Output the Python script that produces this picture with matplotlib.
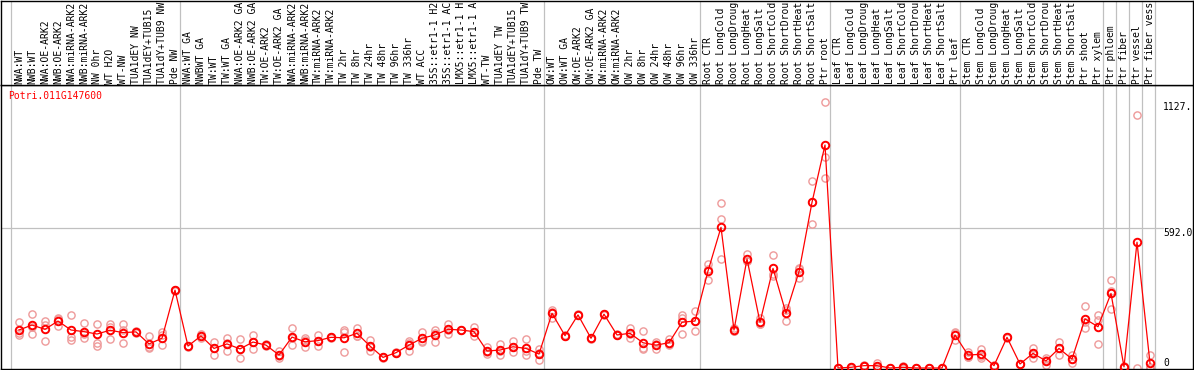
import matplotlib
matplotlib.use("Agg")
import matplotlib.pyplot as plt

gene_name = "Potri.011G147600"

labels = [
    "NWA:WT", "NWB:WT", "NWA:OE-ARK2", "NWB:OE-ARK2", "NWA:miRNA-ARK2", "NWB:miRNA-ARK2",
    "NW 0hr", "WT H2O", "WT-NW", "TUA1dEY NW", "TUA1dEY+TUB15", "TUA1dY+TUB9 NW", "Pde NW",
    "NWA:WT GA", "NWBWT GA", "TW:WT", "TW:WT GA", "NWA:OE-ARK2 GA", "NWB:OE-ARK2 GA",
    "TW:OE-ARK2", "TW:OE-ARK2 GA", "NWA:miRNA-ARK2", "NWB:miRNA-ARK2", "TW:miRNA-ARK2",
    "TW:miRNA-ARK2", "TW 2hr", "TW 8hr", "TW 24hr", "TW 48hr", "TW 96hr", "TW 336hr", "WT ACC",
    "35S::etr1-1 H2", "35S::etr1-1 AC", "LMX5::etr1-1 H", "LMX5::etr1-1 A", "WT-TW",
    "TUA1dEY TW", "TUA1dEY+TUB15", "TUA1dY+TUB9 TW", "Pde TW",
    "OW:WT", "OW:WT GA", "OW:OE-ARK2", "OW:OE-ARK2 GA", "OW:miRNA-ARK2", "OW:miRNA-ARK2",
    "OW 2hr", "OW 8hr", "OW 24hr", "OW 48hr", "OW 96hr", "OW 336hr",
    "Root CTR", "Root LongCold", "Root LongDroug", "Root LongHeat", "Root LongSalt",
    "Root ShortCold", "Root ShortDrou", "Root ShortHeat", "Root ShortSalt", "Ptr root",
    "Leaf CTR", "Leaf LongCold", "Leaf LongDroug", "Leaf LongHeat", "Leaf LongSalt",
    "Leaf ShortCold", "Leaf ShortDrou", "Leaf ShortHeat", "Leaf ShortSalt", "Ptr leaf",
    "Stem CTR", "Stem LongCold", "Stem LongDroug", "Stem LongHeat", "Stem LongSalt",
    "Stem ShortCold", "Stem ShortDrou", "Stem ShortHeat", "Stem ShortSalt", "Ptr shoot",
    "Ptr xylem", "Ptr phloem", "Ptr fiber", "Ptr vessel", "Ptr fiber vess",
]

means = [
    161, 182, 164, 199, 161, 154, 144, 160, 150, 153, 102, 126, 330,
    93, 136, 83, 102, 81, 110, 97, 55, 131, 111, 116, 130, 128, 147, 93, 45, 65, 97, 126,
    140, 164, 161, 154, 72, 76, 90, 83, 59,
    232, 137, 225, 126, 228, 140, 147, 107, 97, 107, 194, 199,
    411, 596, 161, 462, 194, 422, 232, 408, 702, 945,
    0, 3, 10, 10, 0, 3, 0, 0, 0, 140,
    55, 58, 10, 130, 17, 62, 30, 83, 38, 208, 175,
    316, 5, 533, 20,
]

replicates = [
    [194, 140, 149], [228, 143, 175], [199, 182, 114], [213, 178, 206], [225, 133, 119],
    [189, 144, 129], [186, 105, 94], [185, 175, 122], [185, 105, 160], [150, 153, 156],
    [136, 83, 87], [154, 140, 97], [330, 328, 332],
    [93, 91, 95], [136, 143, 129], [111, 55, 83], [128, 72, 106], [122, 41, 80],
    [140, 79, 111], [97, 100, 94], [72, 44, 49], [168, 97, 128], [126, 90, 117],
    [140, 94, 114], [130, 133, 127], [161, 69, 154], [171, 135, 135], [119, 73, 87],
    [45, 43, 47], [65, 68, 62], [114, 73, 104], [154, 111, 113], [161, 111, 148],
    [186, 143, 163], [161, 159, 163], [172, 136, 154], [90, 58, 68], [102, 55, 71],
    [114, 69, 87], [122, 55, 72], [80, 34, 63],
    [246, 211, 239], [137, 135, 139], [225, 223, 227], [126, 124, 128], [228, 226, 230],
    [140, 138, 142], [171, 126, 144], [157, 79, 85], [111, 79, 101], [122, 97, 102],
    [225, 143, 214], [242, 157, 198],
    [441, 373, 419], [698, 631, 461], [168, 158, 157], [482, 452, 452], [211, 186, 186],
    [479, 398, 389], [253, 199, 244], [425, 380, 419], [794, 702, 609], [1127, 893, 804],
    [0, 0, 0], [3, 2, 4], [10, 8, 12], [20, 5, 5], [0, 0, 0], [8, 1, 0], [0, 0, 0],
    [0, 0, 0], [0, 0, 0], [154, 119, 148],
    [69, 48, 48], [79, 44, 51], [10, 9, 11], [130, 128, 132], [17, 15, 19], [86, 41, 59],
    [44, 13, 34], [111, 55, 83], [55, 22, 37], [263, 168, 193], [225, 203, 102],
    [373, 249, 326], [5, 3, 7], [1072, 0], [55, 0, 5],
]

group_starts = [0, 13, 41, 53, 63, 73, 84, 85, 86, 87, 88]
y_tick_values = [1127, 592, 0]
y_tick_labels = ["1127.", "592.0", "0"]

W, H = 1194, 370
fig = plt.figure(figsize=(W / 100, H / 100), dpi=100)


def px_axes(x0, y0, x1, y1):
    return fig.add_axes([x0 / W, 1 - y1 / H, (x1 - x0) / W, (y1 - y0) / H])


MONO = "DejaVu Sans Mono"
GRID = "#c0c0c0"
x0_px, step_px = 19.0, 13.0
left_px, right_px = 1.0, 1192.7
xmin = (left_px - x0_px) / step_px
xmax = (right_px - x0_px) / step_px

ax = px_axes(left_px, 85, right_px, 369)
axl = px_axes(left_px, 0.5, right_px, 85)

zero_px, grid592_px = 368.0, 228.3
scale = (zero_px - grid592_px) / 592.0
ax.set_ylim(-(369 - zero_px) / scale, (zero_px - 85) / scale)
ax.set_xlim(xmin, xmax)
axl.set_xlim(xmin, xmax)
axl.set_ylim(85, 0)

for a in (ax, axl):
    a.set_xticks([])
    a.set_yticks([])
    for s in a.spines.values():
        s.set_color("black")
        s.set_linewidth(1.0)
    for g in group_starts:
        a.axvline(g - 0.59, color=GRID, lw=0.9, zorder=0)

text_start = 88.0
ax.axhline(592, xmin=0, xmax=(text_start - xmin) / (xmax - xmin), color=GRID, lw=0.9, zorder=0)

for i, reps in enumerate(replicates):
    ax.plot([i] * len(reps), reps, linestyle="none", marker="o", ms=5.2,
            mfc="none", mec="#ee9a9a", mew=1.0, zorder=2)

ax.plot(range(len(means)), means, color="red", lw=0.9, marker="o", ms=5.4,
        mfc="none", mec="red", mew=1.4, zorder=3)

for i, lab in enumerate(labels):
    axl.text(i, 83.5, lab, rotation=90, ha="center", va="bottom",
             fontsize=7, family=MONO, color="black")

fig.text(8 / W, 1 - 91 / H, gene_name, color="red", fontsize=7, family=MONO,
         ha="left", va="top")

for v, lab in zip(y_tick_values, y_tick_labels):
    ax.text(text_start, v, lab, ha="left", va="bottom" if v == 0 else "top",
            fontsize=7, family=MONO, color="black")

fig.savefig("out.png", dpi=100)
